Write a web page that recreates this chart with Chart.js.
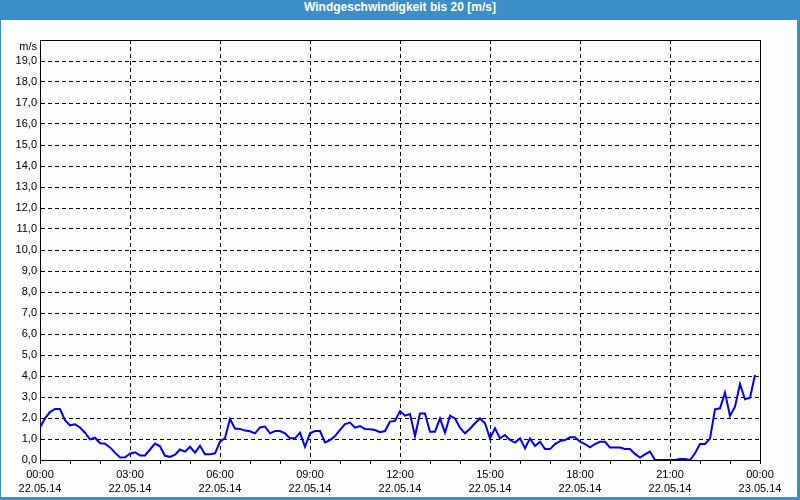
<!DOCTYPE html>
<html>
<head>
<meta charset="utf-8">
<script src="https://cdn.jsdelivr.net/npm/chart.js@4/dist/chart.umd.min.js"></script>
<style>
  html, body { margin: 0; padding: 0; background: #fbfdfb; }
  #frame { position: relative; width: 800px; height: 500px; background: #3c8fc6; overflow: hidden; }
  #title { position: absolute; left: 0; top: 0; width: 800px; height: 20px; line-height: 20px;
           text-align: center; color: #ffffff; font: bold 12px "Liberation Sans", Arial, sans-serif; }
  #plot { position: absolute; left: 1px; top: 20px; width: 796px; height: 477px; background: #fbfdfb; }
</style>
</head>
<body>
<div id="frame">
  <div id="title">Windgeschwindigkeit bis 20 [m/s]</div>
  <div id="plot"><canvas id="c" width="796" height="477"></canvas></div>
</div>
<script>
// ---- data (10-minute values, 22.05.14 00:00 .. 23:50) ----
const stepMinutes = 10;
const windSpeed = [
  1.55,1.98,2.28,2.43,2.43,1.9,1.65,1.7,1.55,1.3,0.98,1.06,0.8,0.78,0.6,0.35,0.12,0.13,0.3,0.37,0.22,0.22,0.5,0.78,0.65,
  0.2,0.15,0.25,0.5,0.4,0.63,0.35,0.68,0.27,0.27,0.32,0.87,1.05,1.95,1.5,1.48,1.4,1.37,1.27,1.55,1.59,1.27,1.38,
  1.38,1.27,1.03,1.03,1.3,0.63,1.27,1.38,1.38,0.84,0.95,1.14,1.43,1.71,1.78,1.54,1.62,1.48,1.46,1.43,1.32,1.38,1.83,1.86,
  2.33,2.11,2.19,1.14,2.22,2.22,1.35,1.35,1.98,1.3,2.11,1.98,1.54,1.27,1.49,1.75,1.98,1.75,1.03,1.51,1.03,1.19,0.95,0.83,
  1.03,0.56,1.03,0.67,0.87,0.52,0.52,0.76,0.9,0.95,1.08,1.08,0.87,0.76,0.6,0.76,0.87,0.87,0.59,0.59,0.59,0.52,0.52,0.29,
  0.12,0.27,0.4,0,0,0,0,0,0.05,0.05,0,0.32,0.76,0.76,1.02,2.41,2.46,3.21,2.1,2.54,3.62,2.89,2.97,4.05
];
const timeLabels = ['00:00','03:00','06:00','09:00','12:00','15:00','18:00','21:00','00:00'];
const dateLabels = ['22.05.14','22.05.14','22.05.14','22.05.14','22.05.14','22.05.14','22.05.14','22.05.14','23.05.14'];
const majorStepMinutes = 180;
const minorStepMinutes = 60;
const yUnit = 'm/s';
const yMax = 20;

const points = windSpeed.map((v, i) => ({ x: i * stepMinutes, y: v }));
const xMax = majorStepMinutes * (timeLabels.length - 1);

const FONT = { family: '"Liberation Sans", Arial, sans-serif', size: 11 };

const framePlugin = {
  id: 'frame',
  beforeDatasetsDraw(chart) {
    const { ctx, chartArea: a } = chart;
    ctx.save();
    ctx.strokeStyle = '#000';
    ctx.lineWidth = 1;
    ctx.setLineDash([]);
    ctx.beginPath();
    ctx.moveTo(Math.round(a.left) + 0.5, Math.round(a.top) + 0.5);
    ctx.lineTo(Math.round(a.right) + 0.5, Math.round(a.top) + 0.5);
    ctx.lineTo(Math.round(a.right) + 0.5, Math.round(a.bottom) + 0.5);
    ctx.stroke();
    ctx.restore();
  },
  afterDraw(chart) {
    const { ctx, chartArea: a } = chart;
    ctx.save();
    ctx.fillStyle = '#000';
    ctx.font = FONT.size + 'px ' + FONT.family;
    ctx.textAlign = 'right';
    ctx.textBaseline = 'middle';
    ctx.fillText(yUnit, a.left - 3, a.top + 7);
    ctx.restore();
  }
};

new Chart(document.getElementById('c'), {
  type: 'line',
  data: {
    datasets: [{
      data: points,
      borderColor: '#0000f0',
      borderWidth: 2,
      pointRadius: 0,
      tension: 0,
      fill: false
    }]
  },
  options: {
    responsive: false,
    animation: false,
    events: [],
    layout: { padding: { top: 20, right: 37, left: 0, bottom: 0 } },
    plugins: { legend: { display: false }, title: { display: false }, tooltip: { enabled: false } },
    scales: {
      x: {
        type: 'linear',
        min: 0,
        max: xMax,
        afterBuildTicks(scale) {
          const t = [];
          for (let v = 0; v <= xMax; v += minorStepMinutes) t.push({ value: v });
          scale.ticks = t;
        },
        afterFit(scale) { scale.height = 37; },
        ticks: {
          autoSkip: false,
          maxRotation: 0,
          minRotation: 0,
          padding: 4,
          color: '#000',
          font: { ...FONT, lineHeight: '14px' },
          callback: (v) => (v % majorStepMinutes === 0)
            ? [timeLabels[v / majorStepMinutes], dateLabels[v / majorStepMinutes]] : ''
        },
        grid: {
          color: (c) => (c.tick && c.tick.value % majorStepMinutes === 0) ? '#000' : 'rgba(0,0,0,0)',
          tickColor: '#000',
          tickLength: 4,
          lineWidth: 1
        },
        border: { display: true, color: '#000', width: 1, dash: [4, 3] }
      },
      y: {
        min: 0,
        max: yMax,
        afterFit(scale) { scale.width = 39; },
        ticks: {
          stepSize: 1,
          padding: 3,
          color: '#000',
          font: FONT,
          callback: (v) => v === yMax ? '' : v.toFixed(1).replace('.', ',')
        },
        grid: { color: '#000', lineWidth: 1, drawTicks: false },
        border: { display: true, color: '#000', width: 1, dash: [4, 3] }
      }
    }
  },
  plugins: [framePlugin]
});
</script>
</body>
</html>
